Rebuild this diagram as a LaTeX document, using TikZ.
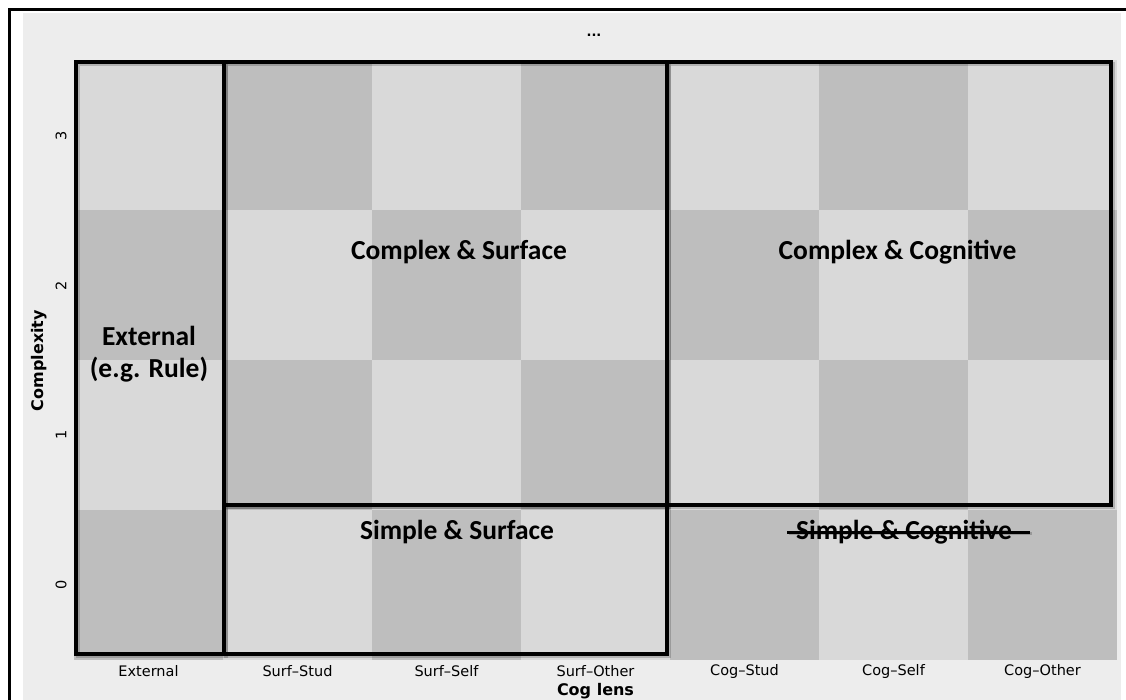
\documentclass[tikz,border=0pt]{standalone}
\usepackage{fontspec}
\setmainfont{Carlito}
\newfontfamily\axfont{DejaVu Sans}
\definecolor{bgpanel}{HTML}{EDEDED}
\definecolor{tilelight}{HTML}{D9D9D9}
\definecolor{tiledark}{HTML}{BEBEBE}
\begin{document}
\begin{tikzpicture}[x=1pt,y=-1pt,
  region/.style={draw=black,line width=4pt,line join=miter},
  shadowbox/.style={draw=black,line width=4pt,opacity=0.18},
  biglabel/.style={font=\bfseries\fontsize{27.5}{33}\selectfont,inner sep=0pt,anchor=base},
  ticklabel/.style={font=\axfont\fontsize{14.5}{16}\selectfont,inner sep=0pt},
  axtitle/.style={font=\axfont\bfseries\fontsize{16}{18}\selectfont,inner sep=0pt}]
\useasboundingbox (0,0) rectangle (1126,700);
\fill[white] (0,0) rectangle (1126,700);
% outer frame
\draw[line width=3pt] (9.5,700) -- (9.5,10) -- (1126,10);
% plot background
\fill[bgpanel] (23,13) rectangle (1121,700);
% checkerboard tiles
\foreach \c in {0,...,6}{
  \foreach \r in {0,...,3}{
    \pgfmathtruncatemacro\s{\c+\r}
    \ifodd\s
      \fill[tilelight] ({74+149*\c},{660-150*(\r+1)}) rectangle ({74+149*(\c+1)},{660-150*\r});
    \else
      \fill[tiledark] ({74+149*\c},{660-150*(\r+1)}) rectangle ({74+149*(\c+1)},{660-150*\r});
    \fi
  }
}
% shadows
\begin{scope}[shift={(2,2)}]
  \draw[shadowbox] (76,62.5) rectangle (224,653.5);
  \draw[shadowbox] (224,62.5) rectangle (667,505);
  \draw[shadowbox] (224,505) rectangle (667,653.5);
  \draw[shadowbox] (667,62.5) rectangle (1111,505);
\end{scope}
% region boxes
\draw[region] (76,62.5) rectangle (224,653.5);
\draw[region] (224,62.5) rectangle (667,505);
\draw[region] (224,505) rectangle (667,653.5);
\draw[region] (667,62.5) rectangle (1111,505);
% region labels
\node[biglabel] (cs) at (459,260) {Complex \& Surface};
\node[biglabel] (cc) at (897.5,260) {Complex \& Cognitive};
\node[biglabel] (ss) at (457,539) {Simple \& Surface};
\node[biglabel] (sc) at (904,539) {Simple \& Cognitive};
\node[biglabel] (ext1) at (149,345) {External};
\node[biglabel] (ext2) at (149,377) {(e.g. Rule)};
% strike-through
\coordinate (sL) at (787,532);
\coordinate (sR) at (1030,532);
\draw[line width=3pt,black,opacity=0.2] ([shift={(1.5,1.5)}]sL) -- ([shift={(1.5,1.5)}]sR);
\draw[line width=3pt] (sL) -- (sR);
% title
\node[axtitle,font=\axfont\bfseries\fontsize{13}{15}\selectfont] (title) at (594,35) {...};
% y axis
\node[ticklabel,rotate=90] (y3) at (61,136) {3};
\node[ticklabel,rotate=90] (y2) at (61,285.5) {2};
\node[ticklabel,rotate=90] (y1) at (61,435) {1};
\node[ticklabel,rotate=90] (y0) at (61,585) {0};
\node[axtitle,rotate=90] (ytitle) at (39,360.5) {Complexity};
% x axis
\node[ticklabel] (x0) at (148.5,671) {External};
\node[ticklabel] (x1) at (297.5,671) {Surf–Stud};
\node[ticklabel] (x2) at (446.5,671) {Surf–Self};
\node[ticklabel] (x3) at (595.5,671) {Surf–Other};
\node[ticklabel] (x4) at (744.5,671) {Cog–Stud};
\node[ticklabel] (x5) at (893.5,671) {Cog–Self};
\node[ticklabel] (x6) at (1042.5,671) {Cog–Other};
\node[axtitle] (xtitle) at (595.5,691) {Cog lens};
\end{tikzpicture}
\end{document}
